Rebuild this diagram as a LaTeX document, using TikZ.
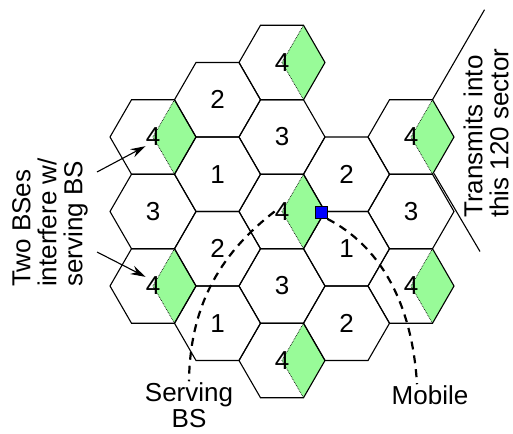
\documentclass[tikz,border=0pt]{standalone}
\usepackage{fontspec}
\setmainfont{Liberation Sans}
\usetikzlibrary{arrows.meta}
\definecolor{sectorgreen}{RGB}{152,251,152}

\tikzset{
  cellnum/.style={font=\fontsize{26}{26}\selectfont, inner sep=0pt},
  caption/.style={font=\fontsize{26}{26}\selectfont, inner sep=1pt},
  celledge/.style={line width=1.1pt},
  sectoredge/.style={densely dotted, line width=0.7pt},
  pathline/.style={dashed, line width=2.2pt, dash pattern=on 8pt off 6pt},
  pointer/.style={line width=1.1pt, -{Stealth[length=15pt, width=9pt]}}
}

\begin{document}
\begin{tikzpicture}[x=1pt, y=-1pt]
				\useasboundingbox (0,0) rectangle (513,433);
				% cell centres: column, half-row, number
				\foreach \c/\r/\n in {0/0/4, 0/2/3, 0/4/4,
						1/-1/2, 1/1/1, 1/3/2, 1/5/1,
						2/-2/4, 2/0/3, 2/2/4, 2/4/3, 2/6/4,
						3/1/2, 3/3/1, 3/5/2,
						4/0/4, 4/2/3, 4/4/4} {
					\coordinate (cell-\c-\r) at ({153+64.5*\c},{137+37.25*\r});
				}
				% 120 sectors of the cells 4
				\foreach \c/\r in {0/0, 0/4, 2/-2, 2/2, 2/6, 4/0, 4/4} {
					\fill[sectorgreen] (cell-\c-\r) -- ++(21.5,-37.25) -- ++(21.5,37.25) -- ++(-21.5,37.25) -- cycle;
					\draw[sectoredge] (cell-\c-\r) ++(21.5,-37.25) -- (cell-\c-\r) -- ++(21.5,37.25);
				}
				% hexagons
				\foreach \c/\r in {0/0, 0/2, 0/4, 1/-1, 1/1, 1/3, 1/5,
						2/-2, 2/0, 2/2, 2/4, 2/6, 3/1, 3/3, 3/5, 4/0, 4/2, 4/4} {
					\draw[celledge] (cell-\c-\r) ++(43,0) -- ++(-21.5,37.25) -- ++(-43,0)
						-- ++(-21.5,-37.25) -- ++(21.5,-37.25) -- ++(43,0) -- cycle;
				}
				\foreach \c/\r/\n in {0/0/4, 0/2/3, 0/4/4,
						1/-1/2, 1/1/1, 1/3/2, 1/5/1,
						2/-2/4, 2/0/3, 2/2/4, 2/4/3, 2/6/4,
						3/1/2, 3/3/1, 3/5/2,
						4/0/4, 4/2/3, 4/4/4} {
					\node[cellnum] (num-\c-\r) at (cell-\c-\r) {\n};
				}

				% sector boundary
				\draw[celledge] (cell-4-0) ++(21.5,-37.25) -- ++(52,-90);
				\draw[celledge] (cell-4-0) ++(23,36.5) -- ++(46,78);
				\node[caption, rotate=90, align=left, anchor=west] (sector) at (486,219) {Transmits into\\this 120 sector};

				% mobile and serving BS
				\node[draw, fill=blue, line width=0.8pt, minimum size=12pt, inner sep=0pt] (mobile) at (321,212.5) {};
				\node[caption, align=center] (servtext) at (189,405) {Serving\\BS};
				\node[caption] (mobtext) at (430,395) {Mobile};
				\draw[pathline] (num-2-2.west) .. controls (225,250) and (190,300) .. (servtext.north);
				\draw[pathline] (mobile.south east) .. controls (378,245) and (412,300) .. ([xshift=-13pt]mobtext.north);

				% interferers
				\node[caption, rotate=90, align=left, anchor=west] (twobs) at (50,288) {Two BSes\\interfere w/\\serving BS};
				\coordinate (tail-a) at (97,172);
				\coordinate (tail-b) at (97,252);
				\draw[pointer] (tail-a) -- (num-0-0.south west);
				\draw[pointer] (tail-b) -- (num-0-4.north west);

			\end{tikzpicture}
\end{document}
